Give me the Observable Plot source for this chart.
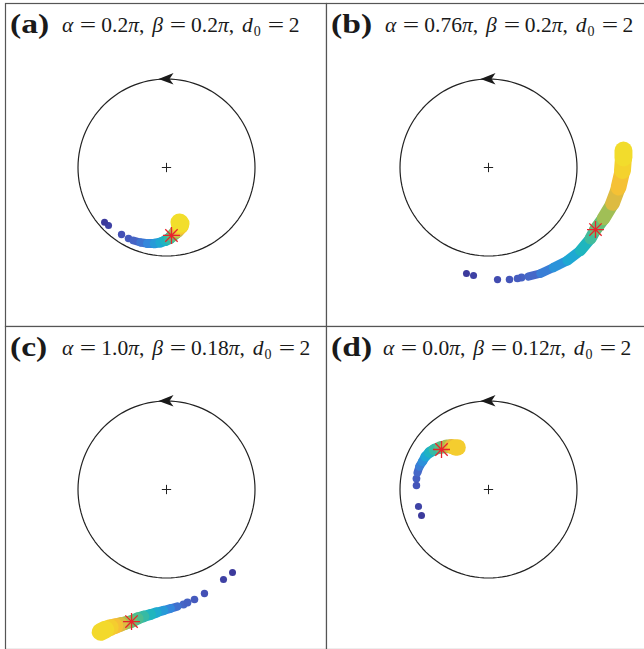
<!DOCTYPE html>
<html><head><meta charset="utf-8">
<script src="https://cdn.jsdelivr.net/npm/d3@7"></script>
<script src="https://cdn.jsdelivr.net/npm/@observablehq/plot@0.6"></script>
<style>
body{margin:0;background:#fff;}
#chart{position:relative;width:644px;height:649px;overflow:hidden;background:#fff;}
.panel{position:absolute;}
.lbl,.math{position:absolute;white-space:nowrap;font-family:"Liberation Serif",serif;color:#1a1a1a;line-height:30px;}
.lbl{font-size:28px;font-weight:bold;transform:scaleX(1.2);transform-origin:0 50%;}
.math{font-size:21.5px;}
.math .eq{display:inline-block;width:16px;text-align:center;margin:0 5px 0 7px;transform:scaleX(1.35);}
.math .sp{display:inline-block;width:8px;}
.math sub{font-size:14px;vertical-align:-4px;line-height:0;margin-left:1px;}
</style></head><body><div id="chart"></div>
<script>
// ---- data (circle radius = 1) ----
const panelLabels = ["(a)", "(b)", "(c)", "(d)"];
const alphas = ["0.2", "0.76", "1.0", "0.0"];
const betas = ["0.2", "0.2", "0.18", "0.12"];
const d0s = ["2", "2", "2", "2"];

// separated early points [x, y, t]
const dotsA = [[-0.70,-0.62,0.00],[-0.655,-0.655,0.03],[-0.508,-0.757,0.10],[-0.429,-0.802,0.14]];
const bandA = [[-0.373,-0.825,0.18],[-0.294,-0.847,0.24],[-0.215,-0.859,0.30],[-0.136,-0.859,0.36],[-0.068,-0.847,0.42],[-0.011,-0.825,0.48],[0.034,-0.802,0.54],[0.068,-0.768,0.60],[0.102,-0.734,0.66],[0.124,-0.712,0.72],[0.147,-0.678,0.80],[0.158,-0.655,0.88],[0.158,-0.633,0.95],[0.147,-0.621,1.00]];
const starA = [[0.056,-0.768]];

const dotsB = [[-0.249,-1.198,0.00],[-0.169,-1.220,0.03],[0.102,-1.266,0.08],[0.237,-1.266,0.12],[0.328,-1.254,0.15],[0.373,-1.243,0.17]];
const bandB = [[0.452,-1.232,0.20],[0.588,-1.198,0.27],[0.734,-1.130,0.34],[0.893,-1.051,0.41],[1.040,-0.938,0.49],[1.153,-0.802,0.56],[1.209,-0.701,0.61],[1.299,-0.576,0.67],[1.401,-0.407,0.74],[1.469,-0.226,0.81],[1.514,-0.034,0.88],[1.525,0.113,0.94],[1.525,0.192,1.00]];
const starB = [[1.209,-0.701]];

const dotsC = [[0.746,-0.938,0.00],[0.644,-1.017,0.03],[0.429,-1.175,0.10],[0.316,-1.243,0.14],[0.237,-1.277,0.17],[0.192,-1.299,0.19]];
const bandC = [[0.124,-1.322,0.23],[0.045,-1.345,0.30],[-0.034,-1.367,0.36],[-0.113,-1.390,0.43],[-0.181,-1.412,0.49],[-0.260,-1.435,0.54],[-0.328,-1.458,0.58],[-0.395,-1.492,0.62],[-0.463,-1.508,0.68],[-0.520,-1.525,0.74],[-0.576,-1.542,0.80],[-0.633,-1.559,0.86],[-0.689,-1.582,0.92],[-0.746,-1.610,1.00]];
const starC = [[-0.395,-1.492]];

const dotsD = [[-0.757,-0.294,0.00],[-0.791,-0.192,0.04],[-0.814,0.045,0.12],[-0.814,0.124,0.16]];
const bandD = [[-0.802,0.192,0.20],[-0.780,0.260,0.27],[-0.746,0.316,0.33],[-0.712,0.373,0.40],[-0.667,0.418,0.47],[-0.610,0.452,0.54],[-0.542,0.475,0.60],[-0.475,0.486,0.68],[-0.418,0.486,0.76],[-0.373,0.475,0.86],[-0.350,0.475,1.00]];
const starD = [[-0.531,0.452]];

// colormap (parula-like)
const cmapStops = [0, 0.1, 0.2, 0.3, 0.4, 0.5, 0.58, 0.64, 0.7, 0.78, 0.88, 1];
const cmapColors = ["#3c3a9c","#4450b5","#4668c8","#3487dc","#1ea6d6","#1fb7bb","#4dbd90","#7cc062","#c4bd4a","#f6b938","#f4d22d","#f0e62a"];

// ---- rendering ----
const color = d3.scaleLinear().domain(cmapStops).range(cmapColors).interpolate(d3.interpolateRgb);
const rad = t => 3.5 + 6 * Math.pow(t, 1.5);
const K = 88.5; // px per unit
const panels = [
  {dots: dotsA, band: bandA, star: starA, left: 4, top: 2, cx: 162, cy: 165, mathDx: 58},
  {dots: dotsB, band: bandB, star: starB, left: 325, top: 2, cx: 163, cy: 165, mathDx: 60},
  {dots: dotsC, band: bandC, star: starC, left: 4, top: 325, cx: 162, cy: 164, mathDx: 58},
  {dots: dotsD, band: bandD, star: starD, left: 325, top: 325, cx: 163, cy: 164, mathDx: 58}
];
const W = 323, H = 325;
const circlePts = d3.range(0, 361, 3).map(a => [Math.cos(a * Math.PI / 180), Math.sin(a * Math.PI / 180)]);
const starSymbol = {draw(ctx) {
  const s = 8.5, d = 6.2;
  ctx.moveTo(-s, 0); ctx.lineTo(s, 0);
  ctx.moveTo(0, -s); ctx.lineTo(0, s);
  ctx.moveTo(-d, -d); ctx.lineTo(d, d);
  ctx.moveTo(-d, d); ctx.lineTo(d, -d);
}};
const arrowSymbol = {draw(ctx) {
  ctx.moveTo(-8, 0); ctx.lineTo(7, -6); ctx.lineTo(3, 0); ctx.lineTo(7, 5.5); ctx.closePath();
}};
const chart = document.getElementById("chart");
panels.forEach((p, i) => {
  const segs = p.band.slice(1).map((q, j) => {
    const a = p.band[j];
    return {x1: a[0], y1: a[1], x2: q[0], y2: q[1], c: color(a[2]), w: 2 * rad(a[2])};
  });
  const dots = p.dots.map(d => ({x: d[0], y: d[1], c: color(d[2]), r: rad(d[2])}));
  const svg = Plot.plot({
    width: W, height: H, margin: 1,
    x: {domain: [(1 - p.cx) / K, (W - 1 - p.cx) / K], axis: null},
    y: {domain: [(p.cy - (H - 1)) / K, (p.cy - 1) / K], axis: null},
    r: {type: "identity"},
    marks: [
      Plot.line(circlePts, {x: d => d[0], y: d => d[1], stroke: "#222", strokeWidth: 1.2}),
      Plot.dot([[0, 1]], {x: d => d[0], y: d => d[1], symbol: arrowSymbol, fill: "#1a1a1a", stroke: "none", r: 5}),
      Plot.dot([[0, 0]], {x: d => d[0], y: d => d[1], symbol: "plus", stroke: "#222", strokeWidth: 1, r: 3.1}),
      Plot.dot(dots, {x: "x", y: "y", r: "r", fill: "c", stroke: "none"}),
      Plot.link(segs, {x1: "x1", y1: "y1", x2: "x2", y2: "y2", stroke: "c", strokeWidth: "w", strokeLinecap: "round"}),
      Plot.dot(p.star, {x: d => d[0], y: d => d[1], symbol: starSymbol, stroke: "#e8232b", strokeWidth: 1.3, r: 5, fill: "none"}),
      Plot.frame({stroke: "#555", strokeWidth: 1.2})
    ]
  });
  svg.classList.add("panel");
  svg.style.left = p.left + "px";
  svg.style.top = p.top + "px";
  chart.appendChild(svg);
  const lbl = document.createElement("div");
  lbl.className = "lbl";
  lbl.style.left = (p.left + 6) + "px";
  lbl.style.top = (p.top + 7) + "px";
  lbl.textContent = panelLabels[i];
  chart.appendChild(lbl);
  const m = document.createElement("div");
  m.className = "math";
  m.style.left = (p.left + p.mathDx) + "px";
  m.style.top = (p.top + 8) + "px";
  m.innerHTML = `<i>α</i><span class="eq">=</span>${alphas[i]}<i>π</i>,<span class="sp"></span><i>β</i><span class="eq">=</span>${betas[i]}<i>π</i>,<span class="sp"></span><i>d</i><sub>0</sub><span class="eq">=</span>${d0s[i]}`;
  chart.appendChild(m);
});
</script></body></html>
